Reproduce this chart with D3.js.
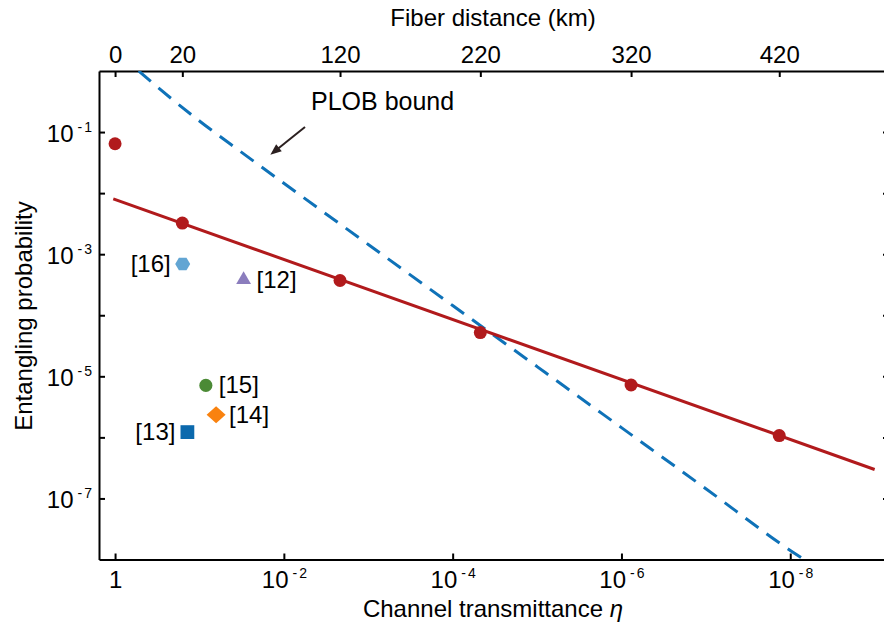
<!DOCTYPE html>
<html>
<head>
<meta charset="utf-8">
<script src="https://cdn.jsdelivr.net/npm/d3@7"></script>
<style>
  html, body { margin: 0; padding: 0; background: #fff; }
  svg { display: block; font-family: "Liberation Sans", Arial, Helvetica, sans-serif; }
</style>
</head>
<body>
<svg id="chart" width="884" height="629"></svg>
<script>
// Fiber distance (km) marked on the top axis and the channel transmittance it corresponds to
const fiberKm  = [0, 20, 120, 220, 320, 420];
const fiberEta = [1, 0.1596, 2.16e-3, 4.70e-5, 7.69e-7, 1.35e-8];

// Measured entangling probability at each fiber distance
const measuredP = [0.0643, 3.23e-3, 3.71e-4, 5.2e-5, 7.2e-6, 1.07e-6];

// Scaling fit through the measurements (endpoints of the straight log-log line)
const fitEta = [1.05, 1e-9];
const fitP   = [8.07e-3, 2.98e-7];

// PLOB bound
const plobEta = [0.525, 0.316, 0.1, 0.0316, 0.01, 1e-3, 1e-4, 1e-5, 1e-6, 1e-7, 1e-8, 7.2e-9];
const plobP   = [1.0, 0.548, 0.152, 0.0465, 0.0145, 1.443e-3, 1.443e-4, 1.443e-5, 1.443e-6, 1.443e-7, 1.41e-8, 1.04e-8];

// Previous experiments
const refLabels = ["[16]", "[12]", "[15]", "[14]", "[13]"];
const refEta    = [0.158, 0.030, 0.084, 0.0635, 0.139];
const refP      = [6.9e-4, 3.8e-4, 7.1e-6, 2.34e-6, 1.22e-6];
const refShape  = ["hexagon", "triangle", "circle", "diamond", "square"];
const refColor  = ["#62a5d3", "#8b7dbd", "#4b8a35", "#f9820f", "#0b69ad"];
const refSide   = ["left", "right", "right", "right", "left"];

// Axis tick values
const xTicks = [1, 1e-2, 1e-4, 1e-6, 1e-8];
const yTicks = [1e-1, 1e-2, 1e-3, 1e-4, 1e-5, 1e-6, 1e-7];
const yLabelled = [1e-1, 1e-3, 1e-5, 1e-7];

const svg = d3.select("#chart");
const plotL = 99, plotR = 889, plotT = 71, plotB = 559.5;

const x = d3.scaleLog().domain([1.55, 6.76e-10]).range([plotL, plotR]);
const y = d3.scaleLog().domain([1e-8, 1]).range([plotB, plotT]);

const FONT = 24, SUP = 14;
const red = "#b11a1c", blue = "#0f72b8";

svg.append("defs").append("clipPath").attr("id", "plot-clip")
  .append("rect").attr("x", plotL).attr("y", plotT)
  .attr("width", plotR - plotL).attr("height", plotB - plotT);

// Power-of-ten label: "10" with a raised exponent
function powLabel(sel, exp) {
  sel.append("tspan").text("10");
  sel.append("tspan").attr("dx", 4).attr("dy", -10).attr("font-size", SUP).text("-");
  sel.append("tspan").attr("dx", 2).attr("font-size", SUP).text(String(Math.abs(exp)));
}
const expOf = v => Math.round(Math.log10(v));

// Axes: ticks point inward
function styleAxis(g) {
  g.select(".domain").attr("stroke", "#000").attr("stroke-width", 2);
  g.selectAll(".tick line").attr("stroke", "#000").attr("stroke-width", 2);
  g.selectAll(".tick text").remove();
}

const gBottom = svg.append("g").attr("transform", `translate(0,${plotB})`)
  .call(d3.axisBottom(x).tickValues(xTicks).tickSizeInner(-6).tickSizeOuter(0).tickFormat(""))
  .call(styleAxis);
gBottom.selectAll(".tick").append("text")
  .attr("y", 28).attr("text-anchor", "middle").attr("font-size", FONT).attr("fill", "#000")
  .each(function(d) {
    const t = d3.select(this);
    if (d === 1) t.text("1"); else powLabel(t, expOf(d));
  });

const gTop = svg.append("g").attr("transform", `translate(0,${plotT})`)
  .call(d3.axisTop(x).tickValues(fiberEta).tickSizeInner(-6).tickSizeOuter(0).tickFormat(""))
  .call(styleAxis);
gTop.selectAll(".tick").append("text")
  .attr("y", -8).attr("text-anchor", "middle").attr("font-size", FONT).attr("fill", "#000")
  .text((d, i) => fiberKm[i]);

const gLeft = svg.append("g").attr("transform", `translate(${plotL},0)`)
  .call(d3.axisLeft(y).tickValues(yTicks).tickSizeInner(-6).tickSizeOuter(0).tickFormat(""))
  .call(styleAxis);
gLeft.selectAll(".tick").filter(d => yLabelled.includes(d)).append("text")
  .attr("x", -7).attr("y", 9).attr("text-anchor", "end").attr("font-size", FONT).attr("fill", "#000")
  .each(function(d) { powLabel(d3.select(this), expOf(d)); });

svg.append("g").attr("transform", `translate(${plotR},0)`)
  .call(d3.axisRight(y).tickValues(yTicks).tickSizeInner(-6).tickSizeOuter(0).tickFormat(""))
  .call(styleAxis);

// Axis titles
svg.append("text").attr("x", 493).attr("y", 26).attr("text-anchor", "middle")
  .attr("font-size", FONT).text("Fiber distance (km)");
const xt = svg.append("text").attr("x", 493).attr("y", 617).attr("text-anchor", "middle")
  .attr("font-size", FONT);
xt.append("tspan").text("Channel transmittance ");
xt.append("tspan").attr("font-style", "italic").text("η");
svg.append("text").attr("transform", "translate(32,316) rotate(-90)").attr("text-anchor", "middle")
  .attr("font-size", FONT).text("Entangling probability");

const plot = svg.append("g").attr("clip-path", "url(#plot-clip)");

// PLOB bound (dashed)
const plobPts = plobEta.map((e, i) => [x(e), y(plobP[i])]);
plot.append("path").attr("d", d3.line().curve(d3.curveMonotoneX)(plobPts))
  .attr("fill", "none").attr("stroke", blue).attr("stroke-width", 3)
  .attr("stroke-dasharray", "16,10");

// Fit line
plot.append("path").attr("d", d3.line()(fitEta.map((e, i) => [x(e), y(fitP[i])])))
  .attr("fill", "none").attr("stroke", red).attr("stroke-width", 3);

// Measured points
svg.append("g").selectAll("circle").data(fiberEta).join("circle")
  .attr("cx", d => x(d)).attr("cy", (d, i) => y(measuredP[i])).attr("r", 6.5).attr("fill", red);

// Previous experiments: markers and labels
const shapePath = {
  hexagon: "M-7.5,0L-3.8,-6.2L3.8,-6.2L7.5,0L3.8,6.2L-3.8,6.2Z",
  triangle: d3.symbol(d3.symbolTriangle, 95)(),
  circle: d3.symbol(d3.symbolCircle, 135)(),
  diamond: "M0,-8.5L9.5,0L0,8.5L-9.5,0Z",
  square: d3.symbol(d3.symbolSquare, 190)()
};
const refs = svg.append("g").selectAll("g").data(refLabels).join("g")
  .attr("transform", (d, i) => `translate(${x(refEta[i])},${y(refP[i])})`);
refs.append("path").attr("d", (d, i) => shapePath[refShape[i]]).attr("fill", (d, i) => refColor[i]);
refs.append("text").attr("font-size", FONT).attr("y", 8)
  .attr("x", (d, i) => refSide[i] === "left" ? -12 : 13)
  .attr("text-anchor", (d, i) => refSide[i] === "left" ? "end" : "start")
  .text(d => d);

// PLOB annotation
const tipX = x(10 ** -1.84), tipY = y(10 ** -1.37);
svg.append("text").attr("x", 311).attr("y", 110).attr("font-size", 25).text("PLOB bound");
const ang = Math.atan2(tipY - 127, tipX - 305);
svg.append("line").attr("x1", 305).attr("y1", 127)
  .attr("x2", tipX - 8 * Math.cos(ang)).attr("y2", tipY - 8 * Math.sin(ang))
  .attr("stroke", "#2b2020").attr("stroke-width", 2);
const hl = 11, hw = 4.5;
const bx = tipX - hl * Math.cos(ang), by = tipY - hl * Math.sin(ang);
svg.append("path")
  .attr("d", `M${tipX},${tipY}L${bx + hw * Math.sin(ang)},${by - hw * Math.cos(ang)}L${bx - hw * Math.sin(ang)},${by + hw * Math.cos(ang)}Z`)
  .attr("fill", "#2b2020");
</script>
</body>
</html>
